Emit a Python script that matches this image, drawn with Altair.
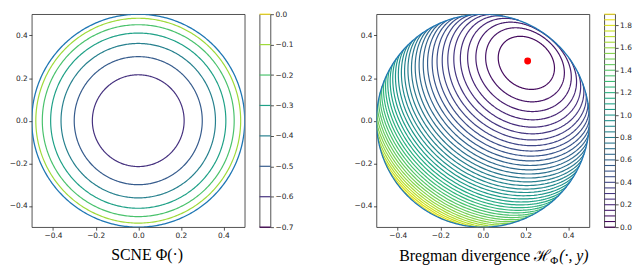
import numpy as np
import pandas as pd
import altair as alt

# ---------------- data ----------------
DISC_RADIUS = 0.5
PHI_SCALE = 0.7          # Phi(0) = -0.7, Phi = 0 on the boundary
PHI_POWER = 0.75
LEFT_LEVELS = [-0.6, -0.5, -0.4, -0.3, -0.2, -0.1]
LEFT_CBAR_LEVELS = [-0.7, -0.6, -0.5, -0.4, -0.3, -0.2, -0.1, 0.0]
RIGHT_LEVELS = [0.05, 0.1, 0.15, 0.2, 0.25, 0.3, 0.35, 0.4, 0.45, 0.5,
                0.55, 0.6, 0.65, 0.7, 0.75, 0.8, 0.85, 0.9, 0.95, 1.0,
                1.05, 1.1, 1.15, 1.2, 1.25, 1.3, 1.35, 1.4, 1.45, 1.5,
                1.55, 1.6, 1.65, 1.7, 1.75, 1.8, 1.85]
RIGHT_CBAR_LEVELS = [0.0] + RIGHT_LEVELS + [1.9]
RIGHT_CBAR_TICKS = [0.0, 0.2, 0.4, 0.6, 0.8, 1.0, 1.2, 1.4, 1.6, 1.8]
AXIS_TICKS = [-0.4, -0.2, 0.0, 0.2, 0.4]
POINT_X = [0.21]
POINT_Y = [0.28]

R = DISC_RADIUS
c = PHI_SCALE
p = PHI_POWER
N = 400


def phi(px, py):
    u = np.clip(1 - (px ** 2 + py ** 2) / R ** 2, 0, None)
    return -c * u ** p


# ---- left panel: level sets of Phi (circles) ----
th_full = np.linspace(0, 2 * np.pi, N + 1)
rows = []
for k, L in enumerate(LEFT_LEVELS):
    r = R * np.sqrt(1 - (-L / c) ** (1 / p))
    for j, t in enumerate(th_full):
        rows.append((r * np.cos(t), r * np.sin(t), L, f"L{k}", j))
left_df = pd.DataFrame(rows, columns=["x", "y", "lev_l", "seg", "ord"])

boundary_df = pd.DataFrame({
    "x": R * np.cos(th_full), "y": R * np.sin(th_full),
    "ord": np.arange(N + 1)})

# ---- right panel: level sets of the Bregman divergence ----
yx, yy = POINT_X[0], POINT_Y[0]
uy = 1 - (yx ** 2 + yy ** 2) / R ** 2
gx = 2 * c * p * uy ** (p - 1) * yx / R ** 2
gy = 2 * c * p * uy ** (p - 1) * yy / R ** 2
phi_y = phi(yx, yy)


def H(px, py):
    return phi(px, py) - phi_y - gx * (px - yx) - gy * (py - yy)


def t_max(th):
    b = yx * np.cos(th) + yy * np.sin(th)
    return -b + np.sqrt(b * b - (yx * yx + yy * yy) + R * R)


def H_ray(th, t):
    return H(yx + t * np.cos(th), yy + t * np.sin(th))


def solve_t(th, L):
    th = np.asarray(th, dtype=float)
    lo = np.zeros_like(th)
    hi = t_max(th)
    for _ in range(50):
        mid = (lo + hi) / 2
        f = H_ray(th, mid)
        lo = np.where(f < L, mid, lo)
        hi = np.where(f >= L, mid, hi)
    return (lo + hi) / 2


def edge_theta(a, b, L):
    for _ in range(50):
        m = (a + b) / 2
        if H_ray(m, t_max(m)) >= L:
            a = m
        else:
            b = m
    return a


dth = 2 * np.pi / N
th = np.arange(N) * dth
rrows = []
for k, L in enumerate(RIGHT_LEVELS):
    valid = H_ray(th, t_max(th)) >= L
    if not valid.any():
        continue
    segs = []
    if valid.all():
        segs.append(np.concatenate([th, [2 * np.pi]]))
    else:
        start = int(np.argmin(valid))
        runs, cur = [], []
        for s in range(N):
            i = (start + s) % N
            if valid[i]:
                cur.append(s)
            elif cur:
                runs.append(cur)
                cur = []
        if cur:
            runs.append(cur)
        for run in runs:
            seq = th[start] + np.array(run) * dth
            a0 = edge_theta(seq[0], seq[0] - dth, L)
            a1 = edge_theta(seq[-1], seq[-1] + dth, L)
            segs.append(np.concatenate([[a0], seq, [a1]]))
    for si, ths in enumerate(segs):
        tt = solve_t(ths, L)
        xs = yx + tt * np.cos(ths)
        ys = yy + tt * np.sin(ths)
        for j in range(len(ths)):
            rrows.append((round(xs[j], 5), round(ys[j], 5), L, f"R{k}_{si}", j))
right_df = pd.DataFrame(rrows, columns=["x", "y", "lev_r", "seg", "ord"])
point_df = pd.DataFrame({"x": POINT_X, "y": POINT_Y})

# ---------------- chart ----------------
W = 215
SERIF = "Liberation Serif, DejaVu Serif, serif"
dom = alt.Scale(domain=[-0.5, 0.5], nice=False, zero=False)


def xy(xaxis, yaxis):
    return (alt.X("x:Q", scale=dom, axis=xaxis),
            alt.Y("y:Q", scale=dom, axis=yaxis))


ax_plain = dict(values=AXIS_TICKS, format=".1f", title=None)

# left plot
LX, LY = xy(alt.Axis(**ax_plain), alt.Axis(**ax_plain))
lcol = alt.Color("lev_l:Q", scale=alt.Scale(scheme="viridis", domain=[-0.7, 0.0]), legend=None)
left_lines = alt.Chart(left_df).mark_line(strokeWidth=1.2, clip=True).encode(
    x=LX, y=LY, color=lcol, detail="seg:N", order="ord:Q")
left_bound = alt.Chart(boundary_df).mark_line(strokeWidth=1.3, color="#1f77b4", clip=True).encode(
    x=LX, y=LY, order="ord:Q")
left_plot = alt.layer(left_lines, left_bound).properties(
    width=W, height=W,
    title=alt.TitleParams("SCNE Φ(·)", orient="bottom", anchor="middle", frame="group",
                          dx=9, offset=21, baseline="alphabetic", font=SERIF,
                          fontSize=16, fontWeight="normal", color="black"))

# left colorbar
left_cbar = alt.Chart(pd.DataFrame({"lev_l": LEFT_CBAR_LEVELS})).mark_rule(strokeWidth=1.2).encode(
    y=alt.Y("lev_l:Q", scale=alt.Scale(domain=[-0.7, 0.0], nice=False, zero=False),
            axis=alt.Axis(orient="right", values=LEFT_CBAR_LEVELS, format=".1f", title=None)),
    color=lcol).properties(width=11, height=W)

spacer = alt.Chart(pd.DataFrame({"a": [0]})).mark_point(opacity=0).encode(
    x=alt.value(0), y=alt.value(0)).properties(
    width=77, height=W, view=alt.ViewBackground(stroke="transparent"))

# right plot
rx_axis = alt.Axis(values=AXIS_TICKS, format=".1f", title="Φ", titleX=175, titleY=37,
                   titleFont=SERIF, titleFontSize=11, titleFontWeight="normal",
                   titleAlign="left", titleBaseline="alphabetic", titleColor="black")
ry_axis = alt.Axis(values=AXIS_TICKS, format=".1f", title="(·, y)", titleX=184, titleY=W + 34,
                   titleAngle=0, titleFont=SERIF, titleFontSize=16, titleFontWeight="normal",
                   titleFontStyle="italic", titleAlign="left", titleBaseline="alphabetic",
                   titleColor="black")
RX, RY = xy(rx_axis, ry_axis)
rcol = alt.Color("lev_r:Q", scale=alt.Scale(scheme="viridis", domain=[0.0, 1.9]), legend=None)
right_lines = alt.Chart(right_df).mark_line(strokeWidth=1.2, clip=True).encode(
    x=RX, y=RY, color=rcol, detail="seg:N", order="ord:Q")
right_bound = alt.Chart(boundary_df).mark_line(strokeWidth=1.3, color="#1f77b4", clip=True).encode(
    x=RX, y=RY, order="ord:Q")
right_pt = alt.Chart(point_df).mark_circle(size=48, color="red", opacity=1).encode(x=RX, y=RY)
right_plot = alt.layer(right_lines, right_bound, right_pt).properties(
    width=W, height=W,
    title=alt.TitleParams("Bregman divergence ℋ", orient="bottom", anchor="start", frame="group",
                          dx=23, offset=-5, baseline="alphabetic", font=SERIF,
                          fontSize=16, fontWeight="normal", color="black"))

right_cbar = alt.Chart(pd.DataFrame({"lev_r": RIGHT_CBAR_LEVELS})).mark_rule(strokeWidth=1.1).encode(
    y=alt.Y("lev_r:Q", scale=alt.Scale(domain=[0.0, 1.9], nice=False, zero=False),
            axis=alt.Axis(orient="right", values=RIGHT_CBAR_TICKS, format=".1f", title=None)),
    color=rcol).properties(width=11, height=W)

chart = alt.hconcat(left_plot, left_cbar, spacer, right_plot, right_cbar,
                    spacing=15, bounds="flush").resolve_scale(color="independent").properties(
    padding=0).configure_view(
    stroke="#262626", strokeWidth=0.8).configure_axis(
    labelFont="DejaVu Sans", labelFontSize=7.5, labelColor="#262626",
    tickColor="#262626", tickSize=3, tickWidth=0.8, labelPadding=1.5,
    domain=False, grid=False)

chart.save("out.html", embed_options={"renderer": "svg", "actions": False})
